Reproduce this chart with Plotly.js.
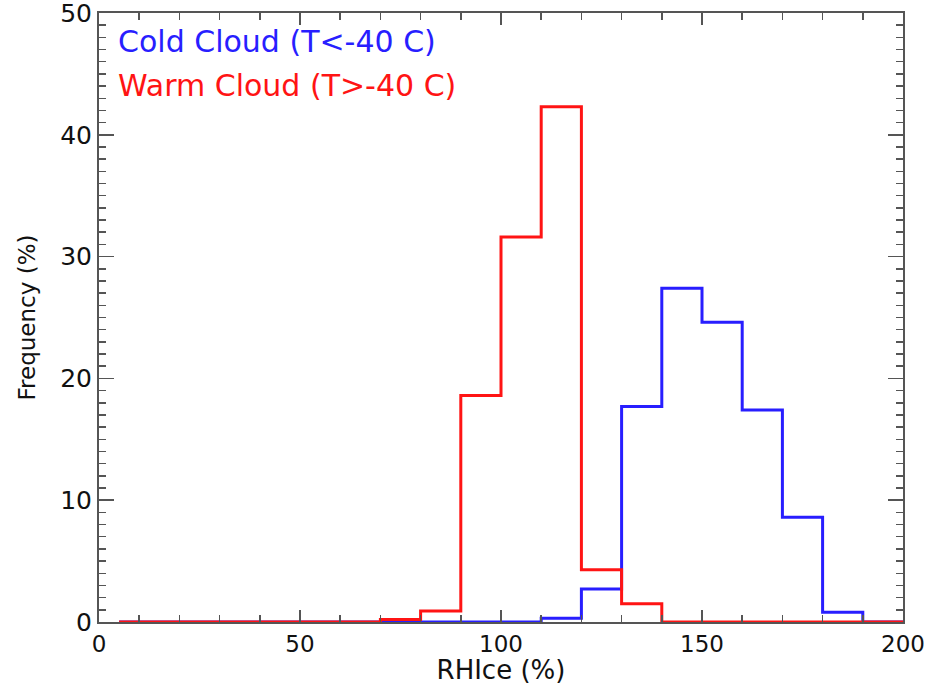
<!DOCTYPE html>
<html>
<head>
<meta charset="utf-8">
<script src="https://cdn.plot.ly/plotly-3.0.1.min.js"></script>
<style>html,body{margin:0;padding:0;background:#fff;}#chart{width:929px;height:685px;}</style>
</head>
<body>
<div id="chart"></div>
<script>
// Bin centers (RHIce %), bin width 10
const binCenters = [5,15,25,35,45,55,65,75,85,95,105,115,125,135,145,155,165,175,185,195];
const binWidth = 10;
// Frequency (%) per bin
const coldFreq = [0,0,0,0,0,0,0,0,0,0,0,0.3,2.7,17.7,27.4,24.6,17.4,8.6,0.8,0];
const warmFreq = [0,0,0,0,0,0,0,0.2,0.9,18.6,31.6,42.3,4.3,1.5,0,0,0,0,0,0];
const xTicks = [0,50,100,150,200];
const yTicks = [0,10,20,30,40,50];
const coldLabel = "Cold Cloud (T&lt;-40 C)";
const warmLabel = "Warm Cloud (T&gt;-40 C)";
const coldColor = "rgb(40,30,255)";
const warmColor = "rgb(255,20,20)";

function stepX(c){ return c.concat([c[c.length-1] + binWidth/2]); }
function stepY(v){ return v.concat([v[v.length-1]]); }

const traces = [
  {x: stepX(binCenters), y: stepY(coldFreq), type:'scatter', mode:'lines',
   line:{color:coldColor, width:3, shape:'hvh'}, hoverinfo:'skip', cliponaxis:true},
  {x: stepX(binCenters), y: stepY(warmFreq), type:'scatter', mode:'lines',
   line:{color:warmColor, width:3, shape:'hvh'}, hoverinfo:'skip', cliponaxis:true}
];

const FONT = 'DejaVu Sans, Liberation Sans, sans-serif';
const axisCol = '#555';
const layout = {
  width:929, height:685,
  margin:{l:99, r:26, t:13, b:63},
  paper_bgcolor:'#fff', plot_bgcolor:'#fff',
  showlegend:false,
  font:{family:FONT, color:'#111'},
  xaxis:{
    range:[0,200], tickvals:xTicks, ticktext:xTicks.map(String),
    ticks:'inside', ticklen:12, tickwidth:1.5, tickcolor:axisCol,
    minor:{dtick:10, tick0:0, ticks:'inside', ticklen:7, tickwidth:1.5, tickcolor:axisCol},
    showline:true, linecolor:axisCol, linewidth:2, mirror:'ticks',
    showgrid:false, zeroline:false, ticklabeloverflow:'allow',
    tickfont:{family:FONT, size:23, color:'#111'},
    title:{text:'RHIce (%)', font:{family:FONT, size:26, color:'#111'}, standoff:3}
  },
  yaxis:{
    range:[0,50], tickvals:yTicks, ticktext:yTicks.map(String),
    ticks:'inside', ticklen:15, tickwidth:1.5, tickcolor:axisCol,
    minor:{dtick:1, tick0:0, ticks:'inside', ticklen:7, tickwidth:1.5, tickcolor:axisCol},
    showline:true, linecolor:axisCol, linewidth:2, mirror:'ticks',
    showgrid:false, zeroline:false, ticklabeloverflow:'allow',
    tickfont:{family:FONT, size:25, color:'#111'},
    title:{text:'Frequency (%)', font:{family:FONT, size:23, color:'#111'}, standoff:18}
  },
  annotations:[
    {text:coldLabel, xref:'paper', yref:'paper', x:0.021, y:0.953, xanchor:'left', yanchor:'middle',
     showarrow:false, font:{family:FONT, size:30, color:coldColor}},
    {text:warmLabel, xref:'paper', yref:'paper', x:0.021, y:0.881, xanchor:'left', yanchor:'middle',
     showarrow:false, font:{family:FONT, size:30, color:warmColor}}
  ]
};

Plotly.newPlot('chart', traces, layout, {displayModeBar:false, staticPlot:true});
</script>
</body>
</html>
